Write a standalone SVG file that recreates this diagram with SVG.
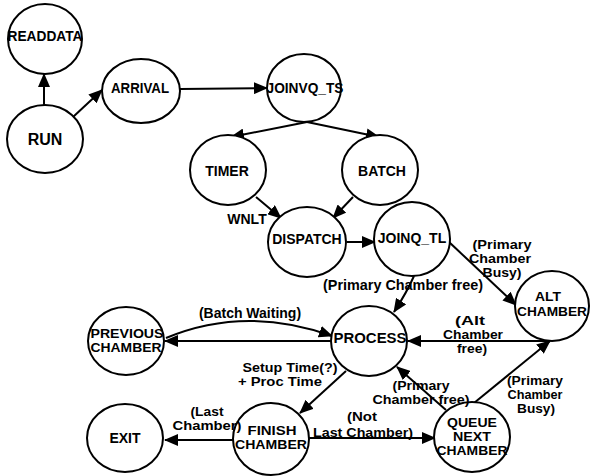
<svg xmlns="http://www.w3.org/2000/svg" width="590" height="476" viewBox="0 0 590 476">
<style>
.node ellipse{fill:#fff;stroke:#000;stroke-width:2}
.node text{font-family:"Liberation Sans",Arial,sans-serif;font-weight:bold;font-size:14px;text-anchor:middle;fill:#000}
.node text.m{font-size:13px}
.lbl{font-family:"Liberation Sans",Arial,sans-serif;font-weight:bold;font-size:14px;text-anchor:middle;fill:#000}
.lbl.m{font-size:13px}
.edge{fill:none;stroke:#000;stroke-width:2;marker-end:url(#ah)}
</style>
<defs>
<marker id="ah" viewBox="0 0 14 12" refX="13" refY="6" markerWidth="14" markerHeight="12" markerUnits="userSpaceOnUse" orient="auto">
<path d="M0,0 L14,6 L0,12 z" fill="#000"/>
</marker>
</defs>
<rect width="590" height="476" fill="#fff"/>
<g id="connectors">
<path class="edge" d="M44,107 L44,74"/>
<path class="edge" d="M73,117 L102,90"/>
<path class="edge" d="M180,89 L267,88"/>
<path class="edge" d="M307,122 L231,137"/>
<path class="edge" d="M307,122 L379,137"/>
<path class="edge" d="M256,197 L281,218"/>
<path class="edge" d="M353,197 L333,218"/>
<path class="edge" d="M347,242 L375,242"/>
<path class="edge" d="M414,276 Q407,292 394,312"/>
<path class="edge" d="M449,242 L516,305"/>
<path class="edge" d="M550,341 L408,341"/>
<path class="edge" d="M474,403 L550,341"/>
<path class="edge" d="M446,410 L397,367"/>
<path class="edge" d="M332,341 L165,341"/>
<path class="edge" d="M166,338 Q245,305 332,336"/>
<path class="edge" d="M346,371 L300,413"/>
<path class="edge" d="M233,440 L165,440"/>
<path class="edge" d="M308,438 L435,438"/>
</g>
<g id="READDATA" class="node"><ellipse cx="45" cy="39" rx="37" ry="35"/><text x="45" y="41" textLength="75" lengthAdjust="spacingAndGlyphs">READDATA</text></g>
<g id="RUN" class="node"><ellipse cx="45" cy="139" rx="38" ry="34"/><text x="45" y="145" style="font-size:16px">RUN</text></g>
<g id="ARRIVAL" class="node"><ellipse cx="141" cy="91" rx="39" ry="32"/><text x="140" y="93" textLength="58" lengthAdjust="spacingAndGlyphs">ARRIVAL</text></g>
<g id="JOINVQ_TS" class="node"><ellipse cx="304" cy="88" rx="37" ry="34"/><text x="305" y="93" textLength="77" lengthAdjust="spacingAndGlyphs">JOINVQ_TS</text></g>
<g id="TIMER" class="node"><ellipse cx="228" cy="170" rx="38" ry="35"/><text x="227" y="176">TIMER</text></g>
<g id="BATCH" class="node"><ellipse cx="380" cy="170" rx="38" ry="35"/><text x="382" y="176">BATCH</text></g>
<g id="DISPATCH" class="node"><ellipse cx="307" cy="242" rx="39" ry="35"/><text x="307" y="244">DISPATCH</text></g>
<g id="JOINQ_TL" class="node"><ellipse cx="412" cy="239" rx="38" ry="37"/><text x="412" y="243">JOINQ_TL</text></g>
<g id="ALT_CHAMBER" class="node"><ellipse cx="552" cy="306" rx="37" ry="35"/><text class="m" x="548" y="301" textLength="26" lengthAdjust="spacingAndGlyphs">ALT</text><text class="m" x="552" y="316" textLength="70" lengthAdjust="spacingAndGlyphs">CHAMBER</text></g>
<g id="PROCESS" class="node"><ellipse cx="369" cy="341" rx="38" ry="35"/><text x="370" y="343" textLength="73" lengthAdjust="spacingAndGlyphs">PROCESS</text></g>
<g id="PREVIOUS_CHAMBER" class="node"><ellipse cx="126" cy="341" rx="38" ry="34"/><text class="m" x="127" y="338" textLength="73" lengthAdjust="spacingAndGlyphs">PREVIOUS</text><text class="m" x="126" y="352" textLength="71" lengthAdjust="spacingAndGlyphs">CHAMBER</text></g>
<g id="EXIT" class="node"><ellipse cx="125" cy="438" rx="38" ry="34"/><text x="125" y="443">EXIT</text></g>
<g id="FINISH_CHAMBER" class="node"><ellipse cx="271" cy="439" rx="38" ry="36"/><text class="m" x="272" y="435" textLength="49" lengthAdjust="spacingAndGlyphs">FINISH</text><text class="m" x="271" y="449" textLength="72" lengthAdjust="spacingAndGlyphs">CHAMBER</text></g>
<g id="QUEUE_NEXT_CHAMBER" class="node"><ellipse cx="472" cy="437" rx="38" ry="35"/><text class="m" x="472" y="427" textLength="50" lengthAdjust="spacingAndGlyphs">QUEUE</text><text class="m" x="472" y="441" textLength="38" lengthAdjust="spacingAndGlyphs">NEXT</text><text class="m" x="472" y="455" textLength="71" lengthAdjust="spacingAndGlyphs">CHAMBER</text></g>
<g id="labels">
<text class="lbl" x="247" y="224">WNLT</text>
<text class="lbl" x="403" y="290" textLength="160" lengthAdjust="spacingAndGlyphs">(Primary Chamber free)</text>
<text class="lbl m" x="502" y="249" textLength="59" lengthAdjust="spacingAndGlyphs">(Primary</text>
<text class="lbl m" x="500" y="263" textLength="62" lengthAdjust="spacingAndGlyphs">Chamber</text>
<text class="lbl m" x="502" y="277" textLength="39" lengthAdjust="spacingAndGlyphs">Busy)</text>
<text class="lbl m" x="470" y="325" textLength="30" lengthAdjust="spacingAndGlyphs">(Alt</text>
<text class="lbl m" x="473" y="339" textLength="60" lengthAdjust="spacingAndGlyphs">Chamber</text>
<text class="lbl m" x="472" y="353" textLength="30" lengthAdjust="spacingAndGlyphs">free)</text>
<text class="lbl" x="250" y="318">(Batch Waiting)</text>
<text class="lbl m" x="290" y="372" textLength="95" lengthAdjust="spacingAndGlyphs">Setup Time(?)</text>
<text class="lbl m" x="280" y="386" textLength="84" lengthAdjust="spacingAndGlyphs">+ Proc Time</text>
<text class="lbl m" x="207" y="416" textLength="33" lengthAdjust="spacingAndGlyphs">(Last</text>
<text class="lbl m" x="207" y="430" textLength="69" lengthAdjust="spacingAndGlyphs">Chamber)</text>
<text class="lbl m" x="362" y="421" textLength="30" lengthAdjust="spacingAndGlyphs">(Not</text>
<text class="lbl m" x="363" y="437" textLength="100" lengthAdjust="spacingAndGlyphs">Last Chamber)</text>
<text class="lbl m" x="421" y="390" textLength="57" lengthAdjust="spacingAndGlyphs">(Primary</text>
<text class="lbl m" x="421" y="404" textLength="97" lengthAdjust="spacingAndGlyphs">Chamber free)</text>
<text class="lbl m" x="535" y="385" textLength="56" lengthAdjust="spacingAndGlyphs">(Primary</text>
<text class="lbl m" x="535" y="399" textLength="55" lengthAdjust="spacingAndGlyphs">Chamber</text>
<text class="lbl m" x="536" y="413" textLength="38" lengthAdjust="spacingAndGlyphs">Busy)</text>
</g>
</svg>
